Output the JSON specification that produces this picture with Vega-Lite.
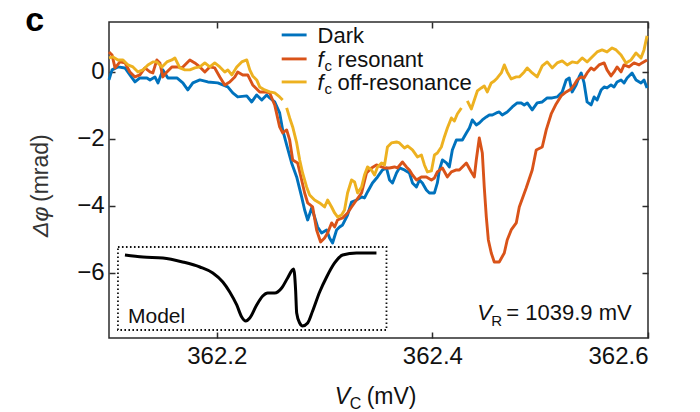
{
  "$schema": "https://vega.github.io/schema/vega-lite/v6.json",
  "width": 539,
  "height": 316,
  "autosize": {"type": "none"},
  "padding": {"left": 109, "top": 22, "right": 52, "bottom": 74},
  "background": "white",
  "config": {
    "font": "Liberation Sans",
    "view": {"stroke": "#2b2b2b", "strokeWidth": 1.5},
    "axis": {"domain": false, "grid": false, "title": null, "labelFont": "Liberation Sans", "labelFontSize": 24, "labelColor": "#111111", "tickColor": "#2b2b2b", "tickWidth": 1.5, "tickSize": -6},
    "text": {"font": "Liberation Sans", "color": "#111111"}
  },
  "resolve": {"axis": {"x": "independent", "y": "independent"}},
  "datasets": {
    "traces": [
      {"trace": "Dark", "vc": 362.1000, "dphi": -0.239}, {"trace": "Dark", "vc": 362.1028, "dphi": 0.060}, {"trace": "Dark", "vc": 362.1083, "dphi": 0.149}, {"trace": "Dark", "vc": 362.1148, "dphi": 0.119}, {"trace": "Dark", "vc": 362.1194, "dphi": -0.090}, {"trace": "Dark", "vc": 362.1241, "dphi": -0.299}, {"trace": "Dark", "vc": 362.1287, "dphi": -0.179}, {"trace": "Dark", "vc": 362.1352, "dphi": -0.179}, {"trace": "Dark", "vc": 362.1380, "dphi": -0.239}, {"trace": "Dark", "vc": 362.1426, "dphi": -0.149}, {"trace": "Dark", "vc": 362.1454, "dphi": -0.328}, {"trace": "Dark", "vc": 362.1500, "dphi": 0.060}, {"trace": "Dark", "vc": 362.1546, "dphi": -0.179}, {"trace": "Dark", "vc": 362.1630, "dphi": -0.179}, {"trace": "Dark", "vc": 362.1685, "dphi": -0.328}, {"trace": "Dark", "vc": 362.1731, "dphi": -0.537}, {"trace": "Dark", "vc": 362.1778, "dphi": -0.328}, {"trace": "Dark", "vc": 362.1843, "dphi": -0.239}, {"trace": "Dark", "vc": 362.1917, "dphi": -0.299}, {"trace": "Dark", "vc": 362.2009, "dphi": -0.328}, {"trace": "Dark", "vc": 362.2102, "dphi": -0.448}, {"trace": "Dark", "vc": 362.2148, "dphi": -0.627}, {"trace": "Dark", "vc": 362.2194, "dphi": -0.746}, {"trace": "Dark", "vc": 362.2278, "dphi": -0.716}, {"trace": "Dark", "vc": 362.2324, "dphi": -0.896}, {"trace": "Dark", "vc": 362.2370, "dphi": -0.687}, {"trace": "Dark", "vc": 362.2417, "dphi": -0.836}, {"trace": "Dark", "vc": 362.2463, "dphi": -0.687}, {"trace": "Dark", "vc": 362.2491, "dphi": -0.776}, {"trace": "Dark", "vc": 362.2537, "dphi": -0.896}, {"trace": "Dark", "vc": 362.2583, "dphi": -1.224}, {"trace": "Dark", "vc": 362.2611, "dphi": -1.731}, {"trace": "Dark", "vc": 362.2648, "dphi": -2.179}, {"trace": "Dark", "vc": 362.2694, "dphi": -2.716}, {"trace": "Dark", "vc": 362.2741, "dphi": -3.134}, {"trace": "Dark", "vc": 362.2787, "dphi": -3.731}, {"trace": "Dark", "vc": 362.2815, "dphi": -4.119}, {"trace": "Dark", "vc": 362.2843, "dphi": -4.418}, {"trace": "Dark", "vc": 362.2880, "dphi": -4.060}, {"trace": "Dark", "vc": 362.2907, "dphi": -4.328}, {"trace": "Dark", "vc": 362.2935, "dphi": -4.627}, {"trace": "Dark", "vc": 362.2972, "dphi": -4.806}, {"trace": "Dark", "vc": 362.3019, "dphi": -4.716}, {"trace": "Dark", "vc": 362.3046, "dphi": -4.955}, {"trace": "Dark", "vc": 362.3074, "dphi": -5.104}, {"trace": "Dark", "vc": 362.3111, "dphi": -4.716}, {"trace": "Dark", "vc": 362.3139, "dphi": -4.627}, {"trace": "Dark", "vc": 362.3167, "dphi": -4.567}, {"trace": "Dark", "vc": 362.3213, "dphi": -4.269}, {"trace": "Dark", "vc": 362.3250, "dphi": -3.881}, {"trace": "Dark", "vc": 362.3296, "dphi": -3.821}, {"trace": "Dark", "vc": 362.3343, "dphi": -3.731}, {"trace": "Dark", "vc": 362.3370, "dphi": -3.761}, {"trace": "Dark", "vc": 362.3398, "dphi": -3.582}, {"trace": "Dark", "vc": 362.3444, "dphi": -3.313}, {"trace": "Dark", "vc": 362.3491, "dphi": -3.134}, {"trace": "Dark", "vc": 362.3537, "dphi": -2.925}, {"trace": "Dark", "vc": 362.3574, "dphi": -2.866}, {"trace": "Dark", "vc": 362.3602, "dphi": -3.224}, {"trace": "Dark", "vc": 362.3630, "dphi": -3.313}, {"trace": "Dark", "vc": 362.3667, "dphi": -3.015}, {"trace": "Dark", "vc": 362.3694, "dphi": -2.866}, {"trace": "Dark", "vc": 362.3741, "dphi": -2.925}, {"trace": "Dark", "vc": 362.3787, "dphi": -3.015}, {"trace": "Dark", "vc": 362.3815, "dphi": -3.313}, {"trace": "Dark", "vc": 362.3852, "dphi": -3.433}, {"trace": "Dark", "vc": 362.3880, "dphi": -3.224}, {"trace": "Dark", "vc": 362.3907, "dphi": -3.313}, {"trace": "Dark", "vc": 362.3944, "dphi": -3.522}, {"trace": "Dark", "vc": 362.3972, "dphi": -3.612}, {"trace": "Dark", "vc": 362.4019, "dphi": -3.612}, {"trace": "Dark", "vc": 362.4046, "dphi": -3.313}, {"trace": "Dark", "vc": 362.4065, "dphi": -2.925}, {"trace": "Dark", "vc": 362.4093, "dphi": -2.627}, {"trace": "Dark", "vc": 362.4130, "dphi": -2.716}, {"trace": "Dark", "vc": 362.4157, "dphi": -2.836}, {"trace": "Dark", "vc": 362.4185, "dphi": -2.328}, {"trace": "Dark", "vc": 362.4222, "dphi": -2.030}, {"trace": "Dark", "vc": 362.4250, "dphi": -2.030}, {"trace": "Dark", "vc": 362.4278, "dphi": -2.030}, {"trace": "Dark", "vc": 362.4315, "dphi": -1.821}, {"trace": "Dark", "vc": 362.4343, "dphi": -1.672}, {"trace": "Dark", "vc": 362.4370, "dphi": -1.433}, {"trace": "Dark", "vc": 362.4407, "dphi": -1.582}, {"trace": "Dark", "vc": 362.4435, "dphi": -1.522}, {"trace": "Dark", "vc": 362.4463, "dphi": -1.433}, {"trace": "Dark", "vc": 362.4500, "dphi": -1.343}, {"trace": "Dark", "vc": 362.4528, "dphi": -1.284}, {"trace": "Dark", "vc": 362.4556, "dphi": -1.284}, {"trace": "Dark", "vc": 362.4593, "dphi": -1.224}, {"trace": "Dark", "vc": 362.4620, "dphi": -1.194}, {"trace": "Dark", "vc": 362.4648, "dphi": -1.284}, {"trace": "Dark", "vc": 362.4694, "dphi": -1.194}, {"trace": "Dark", "vc": 362.4741, "dphi": -1.045}, {"trace": "Dark", "vc": 362.4787, "dphi": -0.925}, {"trace": "Dark", "vc": 362.4824, "dphi": -0.925}, {"trace": "Dark", "vc": 362.4852, "dphi": -0.985}, {"trace": "Dark", "vc": 362.4880, "dphi": -0.925}, {"trace": "Dark", "vc": 362.4926, "dphi": -1.134}, {"trace": "Dark", "vc": 362.4972, "dphi": -0.925}, {"trace": "Dark", "vc": 362.5019, "dphi": -0.896}, {"trace": "Dark", "vc": 362.5065, "dphi": -0.776}, {"trace": "Dark", "vc": 362.5111, "dphi": -0.776}, {"trace": "Dark", "vc": 362.5157, "dphi": -0.746}, {"trace": "Dark", "vc": 362.5204, "dphi": -0.597}, {"trace": "Dark", "vc": 362.5241, "dphi": -0.239}, {"trace": "Dark", "vc": 362.5269, "dphi": -0.179}, {"trace": "Dark", "vc": 362.5296, "dphi": -0.597}, {"trace": "Dark", "vc": 362.5333, "dphi": -0.388}, {"trace": "Dark", "vc": 362.5361, "dphi": -0.149}, {"trace": "Dark", "vc": 362.5380, "dphi": -0.030}, {"trace": "Dark", "vc": 362.5407, "dphi": -0.328}, {"trace": "Dark", "vc": 362.5435, "dphi": -0.896}, {"trace": "Dark", "vc": 362.5472, "dphi": -0.985}, {"trace": "Dark", "vc": 362.5500, "dphi": -0.746}, {"trace": "Dark", "vc": 362.5528, "dphi": -0.836}, {"trace": "Dark", "vc": 362.5565, "dphi": -0.537}, {"trace": "Dark", "vc": 362.5593, "dphi": -0.448}, {"trace": "Dark", "vc": 362.5620, "dphi": -0.478}, {"trace": "Dark", "vc": 362.5657, "dphi": -0.388}, {"trace": "Dark", "vc": 362.5685, "dphi": -0.448}, {"trace": "Dark", "vc": 362.5713, "dphi": -0.299}, {"trace": "Dark", "vc": 362.5750, "dphi": -0.239}, {"trace": "Dark", "vc": 362.5778, "dphi": -0.328}, {"trace": "Dark", "vc": 362.5806, "dphi": -0.179}, {"trace": "Dark", "vc": 362.5852, "dphi": -0.030}, {"trace": "Dark", "vc": 362.5889, "dphi": -0.239}, {"trace": "Dark", "vc": 362.5935, "dphi": -0.328}, {"trace": "Dark", "vc": 362.5963, "dphi": -0.239}, {"trace": "Dark", "vc": 362.5991, "dphi": -0.478},

      {"trace": "fc resonant", "vc": 362.1000, "dphi": 0.597}, {"trace": "fc resonant", "vc": 362.1028, "dphi": 0.507}, {"trace": "fc resonant", "vc": 362.1056, "dphi": 0.119}, {"trace": "fc resonant", "vc": 362.1102, "dphi": 0.299}, {"trace": "fc resonant", "vc": 362.1148, "dphi": 0.269}, {"trace": "fc resonant", "vc": 362.1194, "dphi": 0.000}, {"trace": "fc resonant", "vc": 362.1241, "dphi": -0.149}, {"trace": "fc resonant", "vc": 362.1287, "dphi": -0.090}, {"trace": "fc resonant", "vc": 362.1333, "dphi": 0.119}, {"trace": "fc resonant", "vc": 362.1380, "dphi": 0.000}, {"trace": "fc resonant", "vc": 362.1407, "dphi": -0.030}, {"trace": "fc resonant", "vc": 362.1444, "dphi": 0.358}, {"trace": "fc resonant", "vc": 362.1472, "dphi": 0.269}, {"trace": "fc resonant", "vc": 362.1500, "dphi": -0.149}, {"trace": "fc resonant", "vc": 362.1537, "dphi": 0.000}, {"trace": "fc resonant", "vc": 362.1583, "dphi": 0.149}, {"trace": "fc resonant", "vc": 362.1630, "dphi": 0.149}, {"trace": "fc resonant", "vc": 362.1676, "dphi": 0.119}, {"trace": "fc resonant", "vc": 362.1722, "dphi": 0.269}, {"trace": "fc resonant", "vc": 362.1750, "dphi": 0.358}, {"trace": "fc resonant", "vc": 362.1796, "dphi": 0.269}, {"trace": "fc resonant", "vc": 362.1843, "dphi": 0.149}, {"trace": "fc resonant", "vc": 362.1889, "dphi": 0.000}, {"trace": "fc resonant", "vc": 362.1935, "dphi": 0.149}, {"trace": "fc resonant", "vc": 362.1981, "dphi": 0.119}, {"trace": "fc resonant", "vc": 362.2028, "dphi": -0.149}, {"trace": "fc resonant", "vc": 362.2074, "dphi": -0.388}, {"trace": "fc resonant", "vc": 362.2120, "dphi": -0.299}, {"trace": "fc resonant", "vc": 362.2167, "dphi": -0.149}, {"trace": "fc resonant", "vc": 362.2194, "dphi": 0.000}, {"trace": "fc resonant", "vc": 362.2241, "dphi": -0.090}, {"trace": "fc resonant", "vc": 362.2287, "dphi": -0.090}, {"trace": "fc resonant", "vc": 362.2333, "dphi": -0.388}, {"trace": "fc resonant", "vc": 362.2398, "dphi": -0.597}, {"trace": "fc resonant", "vc": 362.2444, "dphi": -0.597}, {"trace": "fc resonant", "vc": 362.2491, "dphi": -0.627}, {"trace": "fc resonant", "vc": 362.2537, "dphi": -0.985}, {"trace": "fc resonant", "vc": 362.2583, "dphi": -1.642}, {"trace": "fc resonant", "vc": 362.2611, "dphi": -1.821}, {"trace": "fc resonant", "vc": 362.2648, "dphi": -1.731}, {"trace": "fc resonant", "vc": 362.2676, "dphi": -2.030}, {"trace": "fc resonant", "vc": 362.2704, "dphi": -2.627}, {"trace": "fc resonant", "vc": 362.2750, "dphi": -2.716}, {"trace": "fc resonant", "vc": 362.2787, "dphi": -3.224}, {"trace": "fc resonant", "vc": 362.2815, "dphi": -3.612}, {"trace": "fc resonant", "vc": 362.2843, "dphi": -3.910}, {"trace": "fc resonant", "vc": 362.2889, "dphi": -4.030}, {"trace": "fc resonant", "vc": 362.2926, "dphi": -4.716}, {"trace": "fc resonant", "vc": 362.2963, "dphi": -5.075}, {"trace": "fc resonant", "vc": 362.3000, "dphi": -4.955}, {"trace": "fc resonant", "vc": 362.3028, "dphi": -4.806}, {"trace": "fc resonant", "vc": 362.3065, "dphi": -4.507}, {"trace": "fc resonant", "vc": 362.3093, "dphi": -4.627}, {"trace": "fc resonant", "vc": 362.3120, "dphi": -4.418}, {"trace": "fc resonant", "vc": 362.3167, "dphi": -4.358}, {"trace": "fc resonant", "vc": 362.3213, "dphi": -4.209}, {"trace": "fc resonant", "vc": 362.3250, "dphi": -4.030}, {"trace": "fc resonant", "vc": 362.3296, "dphi": -3.821}, {"trace": "fc resonant", "vc": 362.3343, "dphi": -3.612}, {"trace": "fc resonant", "vc": 362.3389, "dphi": -3.015}, {"trace": "fc resonant", "vc": 362.3435, "dphi": -2.866}, {"trace": "fc resonant", "vc": 362.3481, "dphi": -2.776}, {"trace": "fc resonant", "vc": 362.3528, "dphi": -2.836}, {"trace": "fc resonant", "vc": 362.3556, "dphi": -2.866}, {"trace": "fc resonant", "vc": 362.3602, "dphi": -2.866}, {"trace": "fc resonant", "vc": 362.3648, "dphi": -2.836}, {"trace": "fc resonant", "vc": 362.3676, "dphi": -2.866}, {"trace": "fc resonant", "vc": 362.3722, "dphi": -2.687}, {"trace": "fc resonant", "vc": 362.3759, "dphi": -2.836}, {"trace": "fc resonant", "vc": 362.3787, "dphi": -2.925}, {"trace": "fc resonant", "vc": 362.3815, "dphi": -3.075}, {"trace": "fc resonant", "vc": 362.3852, "dphi": -3.224}, {"trace": "fc resonant", "vc": 362.3898, "dphi": -3.134}, {"trace": "fc resonant", "vc": 362.3944, "dphi": -3.134}, {"trace": "fc resonant", "vc": 362.3991, "dphi": -3.224}, {"trace": "fc resonant", "vc": 362.4019, "dphi": -3.164}, {"trace": "fc resonant", "vc": 362.4046, "dphi": -2.985}, {"trace": "fc resonant", "vc": 362.4093, "dphi": -2.866}, {"trace": "fc resonant", "vc": 362.4139, "dphi": -3.134}, {"trace": "fc resonant", "vc": 362.4176, "dphi": -2.985}, {"trace": "fc resonant", "vc": 362.4222, "dphi": -2.925}, {"trace": "fc resonant", "vc": 362.4250, "dphi": -2.925}, {"trace": "fc resonant", "vc": 362.4278, "dphi": -2.836}, {"trace": "fc resonant", "vc": 362.4315, "dphi": -2.716}, {"trace": "fc resonant", "vc": 362.4361, "dphi": -2.985}, {"trace": "fc resonant", "vc": 362.4389, "dphi": -3.134}, {"trace": "fc resonant", "vc": 362.4407, "dphi": -2.627}, {"trace": "fc resonant", "vc": 362.4435, "dphi": -1.970}, {"trace": "fc resonant", "vc": 362.4463, "dphi": -2.418}, {"trace": "fc resonant", "vc": 362.4481, "dphi": -3.433}, {"trace": "fc resonant", "vc": 362.4500, "dphi": -4.328}, {"trace": "fc resonant", "vc": 362.4519, "dphi": -5.015}, {"trace": "fc resonant", "vc": 362.4546, "dphi": -5.403}, {"trace": "fc resonant", "vc": 362.4574, "dphi": -5.672}, {"trace": "fc resonant", "vc": 362.4620, "dphi": -5.672}, {"trace": "fc resonant", "vc": 362.4667, "dphi": -5.403}, {"trace": "fc resonant", "vc": 362.4694, "dphi": -5.015}, {"trace": "fc resonant", "vc": 362.4731, "dphi": -4.716}, {"trace": "fc resonant", "vc": 362.4778, "dphi": -4.507}, {"trace": "fc resonant", "vc": 362.4806, "dphi": -4.030}, {"trace": "fc resonant", "vc": 362.4870, "dphi": -3.463}, {"trace": "fc resonant", "vc": 362.4926, "dphi": -2.925}, {"trace": "fc resonant", "vc": 362.4963, "dphi": -2.328}, {"trace": "fc resonant", "vc": 362.5019, "dphi": -2.239}, {"trace": "fc resonant", "vc": 362.5056, "dphi": -1.731}, {"trace": "fc resonant", "vc": 362.5102, "dphi": -1.254}, {"trace": "fc resonant", "vc": 362.5148, "dphi": -0.955}, {"trace": "fc resonant", "vc": 362.5194, "dphi": -0.716}, {"trace": "fc resonant", "vc": 362.5241, "dphi": -0.597}, {"trace": "fc resonant", "vc": 362.5287, "dphi": -0.507}, {"trace": "fc resonant", "vc": 362.5315, "dphi": -0.388}, {"trace": "fc resonant", "vc": 362.5343, "dphi": -0.239}, {"trace": "fc resonant", "vc": 362.5380, "dphi": -0.149}, {"trace": "fc resonant", "vc": 362.5407, "dphi": -0.179}, {"trace": "fc resonant", "vc": 362.5435, "dphi": -0.030}, {"trace": "fc resonant", "vc": 362.5472, "dphi": 0.119}, {"trace": "fc resonant", "vc": 362.5500, "dphi": 0.060}, {"trace": "fc resonant", "vc": 362.5546, "dphi": 0.209}, {"trace": "fc resonant", "vc": 362.5593, "dphi": 0.269}, {"trace": "fc resonant", "vc": 362.5620, "dphi": 0.060}, {"trace": "fc resonant", "vc": 362.5657, "dphi": -0.119}, {"trace": "fc resonant", "vc": 362.5685, "dphi": 0.000}, {"trace": "fc resonant", "vc": 362.5713, "dphi": 0.149}, {"trace": "fc resonant", "vc": 362.5750, "dphi": 0.000}, {"trace": "fc resonant", "vc": 362.5778, "dphi": 0.209}, {"trace": "fc resonant", "vc": 362.5824, "dphi": 0.149}, {"trace": "fc resonant", "vc": 362.5870, "dphi": 0.269}, {"trace": "fc resonant", "vc": 362.5917, "dphi": 0.209}, {"trace": "fc resonant", "vc": 362.5944, "dphi": 0.269}, {"trace": "fc resonant", "vc": 362.5991, "dphi": 0.358},

      {"trace": "fc off-resonance", "vc": 362.1000, "dphi": 0.418}, {"trace": "fc off-resonance", "vc": 362.1037, "dphi": 0.448}, {"trace": "fc off-resonance", "vc": 362.1083, "dphi": 0.358}, {"trace": "fc off-resonance", "vc": 362.1130, "dphi": 0.358}, {"trace": "fc off-resonance", "vc": 362.1176, "dphi": 0.209}, {"trace": "fc off-resonance", "vc": 362.1222, "dphi": 0.149}, {"trace": "fc off-resonance", "vc": 362.1269, "dphi": 0.000}, {"trace": "fc off-resonance", "vc": 362.1315, "dphi": 0.060}, {"trace": "fc off-resonance", "vc": 362.1361, "dphi": 0.209}, {"trace": "fc off-resonance", "vc": 362.1407, "dphi": 0.299}, {"trace": "fc off-resonance", "vc": 362.1444, "dphi": 0.299}, {"trace": "fc off-resonance", "vc": 362.1491, "dphi": 0.149}, {"trace": "fc off-resonance", "vc": 362.1537, "dphi": 0.299}, {"trace": "fc off-resonance", "vc": 362.1583, "dphi": 0.358}, {"trace": "fc off-resonance", "vc": 362.1611, "dphi": 0.418}, {"trace": "fc off-resonance", "vc": 362.1657, "dphi": 0.119}, {"trace": "fc off-resonance", "vc": 362.1704, "dphi": 0.060}, {"trace": "fc off-resonance", "vc": 362.1750, "dphi": 0.060}, {"trace": "fc off-resonance", "vc": 362.1796, "dphi": 0.119}, {"trace": "fc off-resonance", "vc": 362.1843, "dphi": 0.149}, {"trace": "fc off-resonance", "vc": 362.1889, "dphi": 0.269}, {"trace": "fc off-resonance", "vc": 362.1935, "dphi": 0.149}, {"trace": "fc off-resonance", "vc": 362.1981, "dphi": 0.269}, {"trace": "fc off-resonance", "vc": 362.2028, "dphi": 0.149}, {"trace": "fc off-resonance", "vc": 362.2074, "dphi": 0.000}, {"trace": "fc off-resonance", "vc": 362.2102, "dphi": 0.060}, {"trace": "fc off-resonance", "vc": 362.2139, "dphi": -0.090}, {"trace": "fc off-resonance", "vc": 362.2185, "dphi": 0.149}, {"trace": "fc off-resonance", "vc": 362.2231, "dphi": 0.299}, {"trace": "fc off-resonance", "vc": 362.2278, "dphi": 0.358}, {"trace": "fc off-resonance", "vc": 362.2306, "dphi": 0.060}, {"trace": "fc off-resonance", "vc": 362.2333, "dphi": -0.119}, {"trace": "fc off-resonance", "vc": 362.2370, "dphi": -0.239}, {"trace": "fc off-resonance", "vc": 362.2398, "dphi": -0.448}, {"trace": "fc off-resonance", "vc": 362.2444, "dphi": -0.537}, {"trace": "fc off-resonance", "vc": 362.2491, "dphi": -0.597}, {"trace": "fc off-resonance", "vc": 362.2537, "dphi": -0.627}, {"trace": "fc off-resonance", "vc": 362.2583, "dphi": -0.746}, {"trace": "fc off-resonance", "vc": 362.2611, "dphi": -0.836}, {"trace": "fc off-resonance", "vc": 362.2630, "dphi": null}, {"trace": "fc off-resonance", "vc": 362.2648, "dphi": -1.075}, {"trace": "fc off-resonance", "vc": 362.2676, "dphi": -1.373}, {"trace": "fc off-resonance", "vc": 362.2704, "dphi": -1.642}, {"trace": "fc off-resonance", "vc": 362.2741, "dphi": -2.119}, {"trace": "fc off-resonance", "vc": 362.2769, "dphi": -2.627}, {"trace": "fc off-resonance", "vc": 362.2796, "dphi": -3.015}, {"trace": "fc off-resonance", "vc": 362.2833, "dphi": -3.433}, {"trace": "fc off-resonance", "vc": 362.2861, "dphi": -3.672}, {"trace": "fc off-resonance", "vc": 362.2907, "dphi": -3.821}, {"trace": "fc off-resonance", "vc": 362.2954, "dphi": -3.910}, {"trace": "fc off-resonance", "vc": 362.3000, "dphi": -4.030}, {"trace": "fc off-resonance", "vc": 362.3028, "dphi": -3.821}, {"trace": "fc off-resonance", "vc": 362.3065, "dphi": -4.030}, {"trace": "fc off-resonance", "vc": 362.3093, "dphi": -4.209}, {"trace": "fc off-resonance", "vc": 362.3120, "dphi": -4.328}, {"trace": "fc off-resonance", "vc": 362.3157, "dphi": -4.269}, {"trace": "fc off-resonance", "vc": 362.3185, "dphi": -4.119}, {"trace": "fc off-resonance", "vc": 362.3213, "dphi": -3.612}, {"trace": "fc off-resonance", "vc": 362.3250, "dphi": -3.224}, {"trace": "fc off-resonance", "vc": 362.3278, "dphi": -3.284}, {"trace": "fc off-resonance", "vc": 362.3306, "dphi": -3.612}, {"trace": "fc off-resonance", "vc": 362.3343, "dphi": -3.433}, {"trace": "fc off-resonance", "vc": 362.3370, "dphi": -3.075}, {"trace": "fc off-resonance", "vc": 362.3398, "dphi": -2.836}, {"trace": "fc off-resonance", "vc": 362.3435, "dphi": -2.925}, {"trace": "fc off-resonance", "vc": 362.3463, "dphi": -3.075}, {"trace": "fc off-resonance", "vc": 362.3491, "dphi": -2.836}, {"trace": "fc off-resonance", "vc": 362.3528, "dphi": -2.716}, {"trace": "fc off-resonance", "vc": 362.3556, "dphi": -2.776}, {"trace": "fc off-resonance", "vc": 362.3583, "dphi": -2.239}, {"trace": "fc off-resonance", "vc": 362.3620, "dphi": -2.119}, {"trace": "fc off-resonance", "vc": 362.3667, "dphi": -2.090}, {"trace": "fc off-resonance", "vc": 362.3694, "dphi": -2.119}, {"trace": "fc off-resonance", "vc": 362.3741, "dphi": -2.269}, {"trace": "fc off-resonance", "vc": 362.3769, "dphi": -2.209}, {"trace": "fc off-resonance", "vc": 362.3815, "dphi": -2.328}, {"trace": "fc off-resonance", "vc": 362.3861, "dphi": -2.537}, {"trace": "fc off-resonance", "vc": 362.3898, "dphi": -2.478}, {"trace": "fc off-resonance", "vc": 362.3926, "dphi": -2.776}, {"trace": "fc off-resonance", "vc": 362.3954, "dphi": -2.985}, {"trace": "fc off-resonance", "vc": 362.3991, "dphi": -2.955}, {"trace": "fc off-resonance", "vc": 362.4019, "dphi": -2.478}, {"trace": "fc off-resonance", "vc": 362.4046, "dphi": -2.418}, {"trace": "fc off-resonance", "vc": 362.4083, "dphi": -2.239}, {"trace": "fc off-resonance", "vc": 362.4111, "dphi": -1.940}, {"trace": "fc off-resonance", "vc": 362.4139, "dphi": -1.672}, {"trace": "fc off-resonance", "vc": 362.4176, "dphi": -1.373}, {"trace": "fc off-resonance", "vc": 362.4204, "dphi": -1.463}, {"trace": "fc off-resonance", "vc": 362.4231, "dphi": -1.254}, {"trace": "fc off-resonance", "vc": 362.4269, "dphi": -1.075}, {"trace": "fc off-resonance", "vc": 362.4296, "dphi": null}, {"trace": "fc off-resonance", "vc": 362.4324, "dphi": -0.866}, {"trace": "fc off-resonance", "vc": 362.4361, "dphi": -1.104}, {"trace": "fc off-resonance", "vc": 362.4389, "dphi": -0.836}, {"trace": "fc off-resonance", "vc": 362.4417, "dphi": -0.567}, {"trace": "fc off-resonance", "vc": 362.4454, "dphi": -0.478}, {"trace": "fc off-resonance", "vc": 362.4481, "dphi": -0.418}, {"trace": "fc off-resonance", "vc": 362.4509, "dphi": -0.597}, {"trace": "fc off-resonance", "vc": 362.4546, "dphi": -0.328}, {"trace": "fc off-resonance", "vc": 362.4574, "dphi": -0.269}, {"trace": "fc off-resonance", "vc": 362.4602, "dphi": -0.179}, {"trace": "fc off-resonance", "vc": 362.4639, "dphi": -0.030}, {"trace": "fc off-resonance", "vc": 362.4667, "dphi": 0.209}, {"trace": "fc off-resonance", "vc": 362.4694, "dphi": 0.000}, {"trace": "fc off-resonance", "vc": 362.4731, "dphi": -0.209}, {"trace": "fc off-resonance", "vc": 362.4778, "dphi": -0.149}, {"trace": "fc off-resonance", "vc": 362.4806, "dphi": -0.149}, {"trace": "fc off-resonance", "vc": 362.4852, "dphi": 0.000}, {"trace": "fc off-resonance", "vc": 362.4880, "dphi": 0.119}, {"trace": "fc off-resonance", "vc": 362.4926, "dphi": -0.030}, {"trace": "fc off-resonance", "vc": 362.4972, "dphi": -0.149}, {"trace": "fc off-resonance", "vc": 362.5019, "dphi": 0.179}, {"trace": "fc off-resonance", "vc": 362.5065, "dphi": 0.299}, {"trace": "fc off-resonance", "vc": 362.5111, "dphi": 0.119}, {"trace": "fc off-resonance", "vc": 362.5157, "dphi": 0.269}, {"trace": "fc off-resonance", "vc": 362.5204, "dphi": 0.328}, {"trace": "fc off-resonance", "vc": 362.5250, "dphi": 0.209}, {"trace": "fc off-resonance", "vc": 362.5296, "dphi": 0.299}, {"trace": "fc off-resonance", "vc": 362.5343, "dphi": 0.269}, {"trace": "fc off-resonance", "vc": 362.5389, "dphi": 0.418}, {"trace": "fc off-resonance", "vc": 362.5435, "dphi": 0.299}, {"trace": "fc off-resonance", "vc": 362.5481, "dphi": 0.448}, {"trace": "fc off-resonance", "vc": 362.5528, "dphi": 0.597}, {"trace": "fc off-resonance", "vc": 362.5574, "dphi": 0.657}, {"trace": "fc off-resonance", "vc": 362.5620, "dphi": 0.597}, {"trace": "fc off-resonance", "vc": 362.5667, "dphi": 0.716}, {"trace": "fc off-resonance", "vc": 362.5704, "dphi": 0.657}, {"trace": "fc off-resonance", "vc": 362.5750, "dphi": 0.507}, {"trace": "fc off-resonance", "vc": 362.5796, "dphi": 0.269}, {"trace": "fc off-resonance", "vc": 362.5843, "dphi": 0.358}, {"trace": "fc off-resonance", "vc": 362.5889, "dphi": 0.567}, {"trace": "fc off-resonance", "vc": 362.5935, "dphi": 0.418}, {"trace": "fc off-resonance", "vc": 362.5963, "dphi": 0.657}, {"trace": "fc off-resonance", "vc": 362.5991, "dphi": 1.075}
    ],
    "model": [
      {"vc": 362.1148, "dphi": -5.463}, {"vc": 362.1315, "dphi": -5.522}, {"vc": 362.1500, "dphi": -5.552}, {"vc": 362.1685, "dphi": -5.672}, {"vc": 362.1843, "dphi": -5.821}, {"vc": 362.1963, "dphi": -6.000}, {"vc": 362.2056, "dphi": -6.269}, {"vc": 362.2120, "dphi": -6.567}, {"vc": 362.2185, "dphi": -6.955}, {"vc": 362.2231, "dphi": -7.313}, {"vc": 362.2269, "dphi": -7.433}, {"vc": 362.2306, "dphi": -7.343}, {"vc": 362.2370, "dphi": -6.955}, {"vc": 362.2426, "dphi": -6.687}, {"vc": 362.2472, "dphi": -6.597}, {"vc": 362.2537, "dphi": -6.597}, {"vc": 362.2602, "dphi": -6.448}, {"vc": 362.2657, "dphi": -6.149}, {"vc": 362.2713, "dphi": -5.881}, {"vc": 362.2731, "dphi": -6.507}, {"vc": 362.2741, "dphi": -7.194}, {"vc": 362.2769, "dphi": -7.493}, {"vc": 362.2796, "dphi": -7.582}, {"vc": 362.2843, "dphi": -7.493}, {"vc": 362.2889, "dphi": -7.134}, {"vc": 362.2954, "dphi": -6.567}, {"vc": 362.3019, "dphi": -6.119}, {"vc": 362.3093, "dphi": -5.701}, {"vc": 362.3167, "dphi": -5.463}, {"vc": 362.3296, "dphi": -5.403}, {"vc": 362.3481, "dphi": -5.403}
    ],
    "inset": [{"vc": 362.1083, "vc2": 362.3574, "dphi": -5.224, "dphi2": -7.701, "label": "Model", "lvc": 362.1176, "ldphi": -7.493}],
    "legend": [
      {"trace": "Dark", "dphi": 1.104, "word": "Dark"},
      {"trace": "fc resonant", "dphi": 0.388, "word": "resonant"},
      {"trace": "fc off-resonance", "dphi": -0.299, "word": "off-resonance"}
    ],
    "vr": [{"vc": 362.4417, "dphi": -7.403, "value": "= 1039.9 mV"}],
    "panel": [{"vc": 362.0222, "dphi": 1.224, "label": "c"}],
    "xtitle": [{"vc": 362.3093, "dphi": -9.90}],
    "ytitle": [{"vc": 362.0435, "dphi": -4.925}]
  },
  "layer": [
    {
      "data": {"name": "inset"},
      "mark": {"type": "rect", "fill": "transparent", "stroke": "#111111", "strokeWidth": 1.8, "strokeDash": [1.6, 2.4]},
      "encoding": {
        "x": {"field": "vc", "type": "quantitative", "scale": {"domain": [362.1, 362.6], "nice": false, "zero": false}, "axis": {"orient": "top", "values": [362.2, 362.4, 362.6], "labels": false}},
        "x2": {"field": "vc2"},
        "y": {"field": "dphi", "type": "quantitative", "scale": {"domain": [-7.94, 1.49], "nice": false, "zero": false}, "axis": {"orient": "right", "values": [0, -2, -4, -6], "labels": false}},
        "y2": {"field": "dphi2"}
      }
    },
    {
      "data": {"name": "inset"},
      "mark": {"type": "text", "align": "left", "baseline": "alphabetic", "fontSize": 21, "color": "#111111"},
      "encoding": {
        "x": {"field": "lvc", "type": "quantitative", "scale": {"domain": [362.1, 362.6], "nice": false, "zero": false}, "axis": null},
        "y": {"field": "ldphi", "type": "quantitative", "scale": {"domain": [-7.94, 1.49], "nice": false, "zero": false}, "axis": null},
        "text": {"field": "label"}
      }
    },
    {
      "data": {"name": "model"},
      "mark": {"type": "line", "color": "#000000", "strokeWidth": 3, "interpolate": "monotone"},
      "encoding": {
        "x": {"field": "vc", "type": "quantitative", "scale": {"domain": [362.1, 362.6], "nice": false, "zero": false}, "axis": null},
        "y": {"field": "dphi", "type": "quantitative", "scale": {"domain": [-7.94, 1.49], "nice": false, "zero": false}, "axis": null}
      }
    },
    {
      "data": {"name": "traces"},
      "mark": {"type": "line", "strokeWidth": 2.9, "strokeJoin": "round"},
      "encoding": {
        "x": {"field": "vc", "type": "quantitative", "scale": {"domain": [362.1, 362.6], "nice": false, "zero": false}, "axis": {"orient": "bottom", "values": [362.2, 362.4, 362.6], "format": ".1f", "labelPadding": 12}},
        "y": {"field": "dphi", "type": "quantitative", "scale": {"domain": [-7.94, 1.49], "nice": false, "zero": false}, "axis": {"orient": "left", "values": [0, -2, -4, -6], "format": "d", "labelPadding": 11}},
        "color": {"field": "trace", "type": "nominal", "scale": {"domain": ["Dark", "fc resonant", "fc off-resonance"], "range": ["#0072BD", "#D95319", "#EDB120"]}, "legend": null},
        "order": {"field": "vc", "type": "quantitative"}
      }
    },
    {
      "data": {"name": "legend"},
      "mark": {"type": "rule", "strokeWidth": 2.9},
      "encoding": {
        "x": {"datum": 362.2602, "type": "quantitative", "scale": {"domain": [362.1, 362.6], "nice": false, "zero": false}, "axis": null},
        "x2": {"datum": 362.2833},
        "y": {"field": "dphi", "type": "quantitative", "scale": {"domain": [-7.94, 1.49], "nice": false, "zero": false}, "axis": null},
        "color": {"field": "trace", "type": "nominal", "scale": {"domain": ["Dark", "fc resonant", "fc off-resonance"], "range": ["#0072BD", "#D95319", "#EDB120"]}, "legend": null}
      }
    },
    {
      "data": {"name": "legend"},
      "transform": [{"filter": "datum.trace === 'Dark'"}],
      "mark": {"type": "text", "align": "left", "baseline": "alphabetic", "fontSize": 22, "dy": 8},
      "encoding": {
        "x": {"datum": 362.2935, "type": "quantitative", "scale": {"domain": [362.1, 362.6], "nice": false, "zero": false}, "axis": null},
        "y": {"field": "dphi", "type": "quantitative", "scale": {"domain": [-7.94, 1.49], "nice": false, "zero": false}, "axis": null},
        "text": {"field": "word"}
      }
    },
    {
      "data": {"name": "legend"},
      "transform": [{"filter": "datum.trace !== 'Dark'"}],
      "mark": {"type": "text", "align": "left", "baseline": "alphabetic", "fontSize": 22, "fontStyle": "italic", "dy": 8},
      "encoding": {
        "x": {"datum": 362.2935, "type": "quantitative", "scale": {"domain": [362.1, 362.6], "nice": false, "zero": false}, "axis": null},
        "y": {"field": "dphi", "type": "quantitative", "scale": {"domain": [-7.94, 1.49], "nice": false, "zero": false}, "axis": null},
        "text": {"value": "f"}
      }
    },
    {
      "data": {"name": "legend"},
      "transform": [{"filter": "datum.trace !== 'Dark'"}],
      "mark": {"type": "text", "align": "left", "baseline": "alphabetic", "fontSize": 15, "dx": 7, "dy": 12},
      "encoding": {
        "x": {"datum": 362.2935, "type": "quantitative", "scale": {"domain": [362.1, 362.6], "nice": false, "zero": false}, "axis": null},
        "y": {"field": "dphi", "type": "quantitative", "scale": {"domain": [-7.94, 1.49], "nice": false, "zero": false}, "axis": null},
        "text": {"value": "c"}
      }
    },
    {
      "data": {"name": "legend"},
      "transform": [{"filter": "datum.trace !== 'Dark'"}],
      "mark": {"type": "text", "align": "left", "baseline": "alphabetic", "fontSize": 22, "dx": 20, "dy": 8},
      "encoding": {
        "x": {"datum": 362.2935, "type": "quantitative", "scale": {"domain": [362.1, 362.6], "nice": false, "zero": false}, "axis": null},
        "y": {"field": "dphi", "type": "quantitative", "scale": {"domain": [-7.94, 1.49], "nice": false, "zero": false}, "axis": null},
        "text": {"field": "word"}
      }
    },
    {
      "data": {"name": "vr"},
      "mark": {"type": "text", "align": "left", "baseline": "alphabetic", "fontSize": 22, "fontStyle": "italic"},
      "encoding": {
        "x": {"field": "vc", "type": "quantitative", "scale": {"domain": [362.1, 362.6], "nice": false, "zero": false}, "axis": null},
        "y": {"field": "dphi", "type": "quantitative", "scale": {"domain": [-7.94, 1.49], "nice": false, "zero": false}, "axis": null},
        "text": {"value": "V"}
      }
    },
    {
      "data": {"name": "vr"},
      "mark": {"type": "text", "align": "left", "baseline": "alphabetic", "fontSize": 15, "dx": 14, "dy": 6},
      "encoding": {
        "x": {"field": "vc", "type": "quantitative", "scale": {"domain": [362.1, 362.6], "nice": false, "zero": false}, "axis": null},
        "y": {"field": "dphi", "type": "quantitative", "scale": {"domain": [-7.94, 1.49], "nice": false, "zero": false}, "axis": null},
        "text": {"value": "R"}
      }
    },
    {
      "data": {"name": "vr"},
      "mark": {"type": "text", "align": "left", "baseline": "alphabetic", "fontSize": 22, "dx": 29},
      "encoding": {
        "x": {"field": "vc", "type": "quantitative", "scale": {"domain": [362.1, 362.6], "nice": false, "zero": false}, "axis": null},
        "y": {"field": "dphi", "type": "quantitative", "scale": {"domain": [-7.94, 1.49], "nice": false, "zero": false}, "axis": null},
        "text": {"field": "value"}
      }
    },
    {
      "data": {"name": "panel"},
      "mark": {"type": "text", "align": "left", "baseline": "alphabetic", "fontSize": 34, "fontWeight": "bold", "color": "#000000"},
      "encoding": {
        "x": {"field": "vc", "type": "quantitative", "scale": {"domain": [362.1, 362.6], "nice": false, "zero": false}, "axis": null},
        "y": {"field": "dphi", "type": "quantitative", "scale": {"domain": [-7.94, 1.49], "nice": false, "zero": false}, "axis": null},
        "text": {"field": "label"}
      }
    },
    {
      "data": {"name": "xtitle"},
      "mark": {"type": "text", "align": "left", "baseline": "alphabetic", "fontSize": 23, "fontStyle": "italic"},
      "encoding": {
        "x": {"field": "vc", "type": "quantitative", "scale": {"domain": [362.1, 362.6], "nice": false, "zero": false}, "axis": null},
        "y": {"field": "dphi", "type": "quantitative", "scale": {"domain": [-7.94, 1.49], "nice": false, "zero": false}, "axis": null},
        "text": {"value": "V"}
      }
    },
    {
      "data": {"name": "xtitle"},
      "mark": {"type": "text", "align": "left", "baseline": "alphabetic", "fontSize": 16, "dx": 15, "dy": 5},
      "encoding": {
        "x": {"field": "vc", "type": "quantitative", "scale": {"domain": [362.1, 362.6], "nice": false, "zero": false}, "axis": null},
        "y": {"field": "dphi", "type": "quantitative", "scale": {"domain": [-7.94, 1.49], "nice": false, "zero": false}, "axis": null},
        "text": {"value": "C"}
      }
    },
    {
      "data": {"name": "xtitle"},
      "mark": {"type": "text", "align": "left", "baseline": "alphabetic", "fontSize": 23, "dx": 32},
      "encoding": {
        "x": {"field": "vc", "type": "quantitative", "scale": {"domain": [362.1, 362.6], "nice": false, "zero": false}, "axis": null},
        "y": {"field": "dphi", "type": "quantitative", "scale": {"domain": [-7.94, 1.49], "nice": false, "zero": false}, "axis": null},
        "text": {"value": "(mV)"}
      }
    },
    {
      "data": {"name": "ytitle"},
      "mark": {"type": "text", "align": "left", "baseline": "alphabetic", "fontSize": 23, "fontStyle": "italic", "angle": 270, "color": "#333333"},
      "encoding": {
        "x": {"field": "vc", "type": "quantitative", "scale": {"domain": [362.1, 362.6], "nice": false, "zero": false}, "axis": null},
        "y": {"field": "dphi", "type": "quantitative", "scale": {"domain": [-7.94, 1.49], "nice": false, "zero": false}, "axis": null},
        "text": {"value": "Δφ"}
      }
    },
    {
      "data": {"name": "ytitle"},
      "mark": {"type": "text", "align": "left", "baseline": "alphabetic", "fontSize": 23, "angle": 270, "dx": 35, "color": "#333333"},
      "encoding": {
        "x": {"field": "vc", "type": "quantitative", "scale": {"domain": [362.1, 362.6], "nice": false, "zero": false}, "axis": null},
        "y": {"field": "dphi", "type": "quantitative", "scale": {"domain": [-7.94, 1.49], "nice": false, "zero": false}, "axis": null},
        "text": {"value": "(mrad)"}
      }
    }
  ]
}
